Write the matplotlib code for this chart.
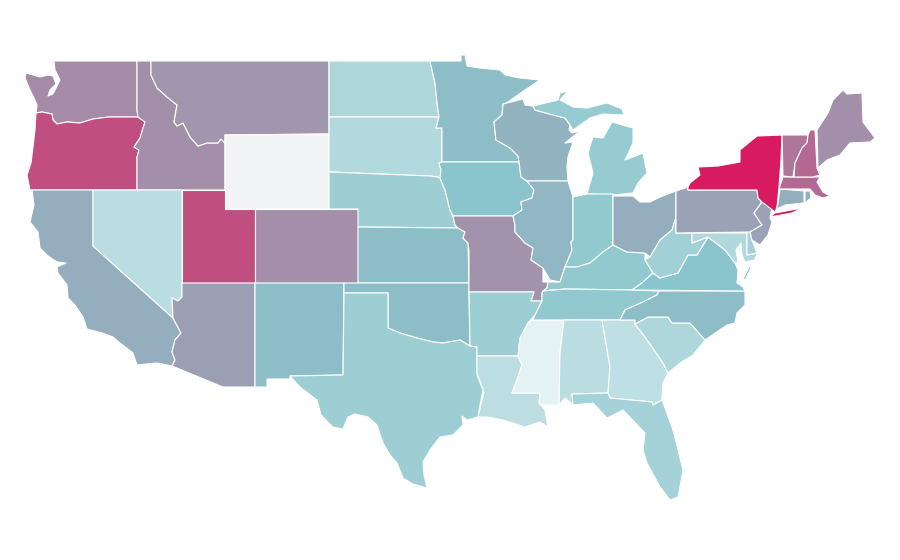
import matplotlib
matplotlib.use('Agg')
import matplotlib.pyplot as plt
import numpy as np
from matplotlib.collections import PatchCollection
from matplotlib.colors import LinearSegmentedColormap, Normalize
from matplotlib.patches import Polygon

# State values, 0 to 100, Wyoming has no data
states = ['WA', 'OR', 'CA', 'ID', 'NV', 'MT', 'WY', 'UT', 'AZ', 'CO', 'NM', 'ND', 'SD', 'NE', 'KS', 'OK', 'TX',
          'MN', 'IA', 'MO', 'AR', 'LA', 'WI', 'IL', 'MS', 'MI', 'IN', 'KY', 'TN', 'AL', 'OH', 'GA', 'FL', 'SC',
          'NC', 'VA', 'WV', 'MD', 'DE', 'PA', 'NJ', 'NY', 'CT', 'RI', 'MA', 'VT', 'NH', 'ME']
values = [67, 85, 57, 66, 25, 64, np.nan, 85, 61, 66, 52, 32, 29, 41, 52, 52, 41,
          52, 50, 65, 41, 24, 55, 54, 3, 44, 46, 46, 46, 25, 57, 23, 36, 31,
          52, 50, 38, 30, 36, 60, 60, 100, 57, 56, 77, 73, 77, 66]

# Outlines of the states in picture pixels
shapes = {
    'WA': [[(54, 61), (137, 61), (137, 110), (138, 117), (109, 117), (93, 119), (80, 123), (67, 122), (57, 124),
            (53, 120), (52, 114), (42, 112), (36, 113), (37, 105), (34, 98), (30, 90), (25, 78), (26, 73), (40, 77),
            (48, 75), (53, 76), (56, 84), (50, 90), (48, 96), (53, 94), (60, 80), (55, 70)]],
    'OR': [[(36, 113), (42, 112), (52, 114), (53, 120), (57, 124), (67, 122), (80, 123), (93, 119), (109, 117),
            (138, 117), (145, 122), (143, 128), (140, 138), (134, 147), (139, 150), (137, 157), (137, 190), (30, 190),
            (27, 175), (31, 163), (33, 147), (35, 130)]],
    'CA': [[(32, 190), (93, 190), (93, 246), (173, 318), (181, 333), (175, 340), (172, 352), (175, 360), (172, 366),
            (157, 363), (137, 365), (133, 353), (120, 343), (113, 337), (102, 333), (87, 329), (83, 317), (75, 305),
            (68, 298), (67, 285), (58, 273), (57, 267), (66, 263), (57, 262), (48, 256), (40, 248), (38, 232),
            (30, 222), (34, 205)]],
    'ID': [[(137, 61), (151, 61), (151, 75), (157, 88), (167, 97), (177, 105), (174, 122), (177, 126), (183, 123),
            (190, 137), (198, 146), (207, 143), (218, 143), (221, 139), (225, 143), (225, 190), (137, 190),
            (137, 157), (139, 150), (134, 147), (140, 138), (143, 128), (145, 122), (138, 117), (137, 110)]],
    'NV': [[(93, 190), (182, 190), (182, 297), (178, 301), (172, 298), (173, 318), (93, 246)]],
    'MT': [[(151, 61), (329, 61), (329, 134), (225, 135), (225, 143), (221, 139), (218, 143), (207, 143), (198, 146),
            (190, 137), (183, 123), (177, 126), (174, 122), (177, 105), (167, 97), (157, 88), (151, 75)]],
    'WY': [[(225, 135), (329, 134), (329, 209), (225, 209)]],
    'UT': [[(182, 190), (225, 190), (225, 209), (255, 209), (255, 283), (182, 283)]],
    'AZ': [[(182, 283), (255, 283), (255, 387), (223, 387), (172, 366), (175, 360), (172, 352), (175, 340), (181, 333),
            (173, 318), (172, 298), (178, 301), (182, 297)]],
    'CO': [[(255, 209), (358, 209), (358, 283), (255, 283)]],
    'NM': [[(255, 283), (344, 283), (343, 375), (290, 376), (290, 379), (267, 379), (267, 387), (255, 387)]],
    'ND': [[(329, 61), (430, 61), (435, 83), (437, 103), (439, 117), (329, 117)]],
    'SD': [[(329, 117), (439, 117), (436, 128), (442, 128), (442, 162), (439, 163), (441, 170), (440, 178), (437, 177),
            (430, 176), (329, 172)]],
    'NE': [[(329, 172), (430, 176), (437, 177), (440, 178), (445, 190), (450, 210), (453, 216), (455, 225), (458, 228),
            (358, 227), (358, 209), (329, 209)]],
    'KS': [[(358, 227), (458, 228), (465, 232), (463, 238), (468, 243), (469, 283), (358, 283)]],
    'OK': [[(344, 283), (469, 283), (469, 292), (470, 346), (460, 340), (443, 343), (433, 342), (417, 338), (400, 333),
            (388, 328), (388, 293), (344, 293)]],
    'TX': [[(344, 293), (388, 293), (388, 328), (400, 333), (417, 338), (433, 342), (443, 343), (460, 340), (470, 346),
            (477, 347), (477, 375), (483, 390), (480, 405), (478, 417), (467, 420), (462, 416), (463, 425), (453, 435),
            (440, 437), (430, 450), (423, 462), (424, 475), (427, 488), (413, 484), (403, 478), (397, 463), (390, 455),
            (383, 443), (377, 425), (368, 417), (355, 414), (348, 417), (343, 429), (333, 427), (321, 415), (317, 400),
            (300, 387), (290, 376), (343, 375)]],
    'MN': [[(430, 61), (461, 61), (461, 55), (465, 55), (467, 66), (480, 68), (500, 70), (505, 75), (520, 78), (540, 80),
            (525, 90), (505, 104), (503, 104), (502, 115), (494, 122), (496, 140), (510, 148), (518, 156), (519, 162),
            (442, 162), (442, 128), (436, 128), (439, 117), (437, 103), (435, 83)]],
    'IA': [[(442, 162), (519, 162), (521, 177), (527, 181), (534, 190), (532, 198), (521, 202), (522, 210), (513, 216),
            (453, 216), (450, 210), (445, 190), (440, 178), (441, 170), (439, 163)]],
    'MO': [[(453, 216), (513, 216), (515, 225), (515, 232), (525, 243), (533, 248), (531, 260), (543, 268), (543, 282),
            (548, 282), (547, 288), (542, 293), (542, 301), (531, 301), (534, 292), (469, 292), (469, 250), (468, 243),
            (463, 238), (465, 232), (458, 228), (455, 225)]],
    'AR': [[(469, 292), (534, 292), (531, 301), (542, 301), (535, 315), (528, 323), (520, 338), (518, 356), (477, 356),
            (477, 347), (470, 346)]],
    'LA': [[(477, 356), (518, 356), (522, 365), (518, 377), (512, 393), (540, 393), (539, 403), (545, 410), (548, 427),
            (540, 422), (525, 427), (503, 420), (487, 417), (478, 417), (484, 392), (477, 373)]],
    'WI': [[(503, 104), (523, 99), (525, 105), (533, 106), (535, 110), (553, 115), (565, 118), (570, 125), (569, 130),
            (572, 133), (580, 131), (565, 143), (573, 142), (568, 157), (567, 167), (568, 181), (527, 181), (521, 177),
            (519, 162), (518, 156), (510, 148), (496, 140), (494, 122), (502, 115)]],
    'IL': [[(527, 181), (568, 181), (573, 197), (573, 240), (571, 242), (572, 250), (565, 267), (560, 282), (550, 280),
            (543, 268), (531, 260), (533, 248), (525, 243), (515, 232), (515, 225), (513, 216), (522, 210), (521, 202),
            (532, 198), (534, 190)]],
    'MS': [[(533, 320), (564, 320), (560, 353), (559, 405), (542, 405), (539, 403), (540, 393), (512, 393), (518, 377),
            (522, 365), (518, 356), (520, 338), (528, 323)]],
    'MI': [[(587, 194), (613, 195), (633, 193), (638, 183), (647, 173), (643, 153), (633, 157), (625, 160), (633, 143),
            (633, 128), (612, 122), (603, 138), (593, 137), (588, 153), (593, 173)],
           [(533, 106), (558, 100), (560, 93), (568, 91), (560, 100), (573, 107), (587, 108), (607, 103), (622, 109),
            (624, 115), (603, 114), (590, 118), (573, 130), (570, 125), (565, 118), (553, 115), (535, 110)]],
    'IN': [[(573, 197), (587, 194), (613, 194), (613, 240), (612, 243), (613, 245), (603, 252), (590, 263), (577, 267),
            (565, 267), (572, 250), (571, 242), (573, 240)]],
    'KY': [[(548, 282), (560, 282), (565, 267), (577, 267), (590, 263), (603, 252), (613, 245), (627, 252), (645, 253),
            (645, 260), (653, 273), (642, 283), (632, 290), (565, 289), (543, 291), (547, 288)]],
    'TN': [[(543, 291), (565, 289), (632, 290), (659, 291), (657, 295), (643, 302), (625, 310), (620, 320), (533, 320),
            (535, 315), (542, 301), (542, 293)]],
    'AL': [[(564, 320), (602, 320), (610, 367), (608, 393), (572, 394), (573, 405), (565, 398), (559, 405), (560, 353)]],
    'OH': [[(613, 196), (633, 196), (640, 202), (650, 202), (660, 197), (676, 191), (676, 217), (672, 230), (660, 240),
            (650, 257), (645, 253), (627, 252), (613, 245)]],
    'GA': [[(602, 320), (635, 320), (635, 324), (645, 337), (663, 363), (668, 373), (663, 383), (662, 400), (653, 405),
            (652, 402), (610, 398), (608, 393), (610, 367)]],
    'FL': [[(572, 394), (608, 393), (610, 398), (652, 402), (653, 405), (662, 400), (673, 430), (683, 470), (678, 497),
            (670, 500), (660, 487), (647, 463), (643, 450), (645, 433), (623, 410), (607, 418), (593, 403), (573, 405)]],
    'SC': [[(635, 324), (648, 317), (668, 317), (672, 323), (690, 323), (705, 340), (693, 355), (680, 363), (668, 373),
            (663, 363), (645, 337)]],
    'NC': [[(620, 320), (625, 310), (643, 302), (657, 295), (659, 291), (745, 291), (745, 305), (737, 313), (735, 323),
            (727, 325), (705, 340), (690, 323), (672, 323), (668, 317), (648, 317), (635, 324), (635, 320)]],
    'VA': [[(632, 290), (642, 283), (653, 273), (660, 278), (678, 273), (688, 255), (697, 255), (708, 237), (716, 243),
            (725, 250), (735, 263), (738, 270), (737, 283), (743, 287), (745, 291)],
           [(743, 279), (750, 265), (751, 268), (745, 280)]],
    'WV': [[(645, 260), (650, 257), (660, 240), (672, 230), (676, 217), (676, 233), (692, 233), (692, 243), (708, 237),
            (697, 255), (688, 255), (678, 273), (660, 278), (653, 273)]],
    'MD': [[(692, 233), (747, 233), (747, 255), (757, 253), (755, 260), (745, 262), (742, 255), (741, 243), (736, 250),
            (738, 262), (735, 263), (725, 250), (716, 243), (708, 237), (692, 243)]],
    'DE': [[(747, 230), (750, 232), (752, 240), (757, 253), (747, 255)]],
    'PA': [[(676, 191), (688, 187), (688, 190), (757, 190), (758, 198), (762, 202), (754, 213), (762, 225), (750, 232),
            (676, 233)]],
    'NJ': [[(762, 202), (772, 207), (770, 218), (772, 222), (768, 235), (760, 245), (752, 240), (750, 232), (762, 225),
            (754, 213)]],
    'NY': [[(688, 187), (690, 183), (700, 175), (698, 167), (718, 166), (740, 162), (740, 150), (757, 136), (782, 135),
            (781, 160), (779, 187), (777, 207), (775, 212), (762, 202), (758, 198), (757, 190), (688, 190)],
           [(770, 217), (775, 213), (802, 208), (792, 213)]],
    'CT': [[(780, 189), (804, 191), (804, 203), (785, 205), (777, 209)]],
    'RI': [[(805, 191), (810, 191), (811, 198), (805, 203)]],
    'MA': [[(783, 177), (820, 177), (817, 182), (823, 192), (830, 196), (823, 198), (815, 195), (810, 189), (779, 189)]],
    'VT': [[(782, 135), (808, 135), (807, 143), (802, 148), (795, 163), (793, 177), (783, 176)]],
    'NH': [[(810, 130), (815, 130), (817, 168), (820, 175), (813, 177), (794, 177), (795, 163), (802, 148), (807, 143),
            (808, 135)]],
    'ME': [[(817, 130), (828, 113), (833, 100), (843, 90), (847, 94), (862, 93), (863, 122), (875, 138), (870, 142),
            (850, 143), (840, 155), (827, 160), (818, 168)]],
}

cmap = LinearSegmentedColormap.from_list('map', ['#e9f5f6', '#8ac5cc', '#d81b60'])
cmap.set_bad('#f3f4f6')

fig = plt.figure(figsize=(9, 5.6), dpi=100)
ax = fig.add_axes([0, 0, 1, 1])

patches = []
colors = []
for state, value in zip(states, values):
    for outline in shapes[state]:
        patches.append(Polygon(outline, closed=True))
        colors.append(value)

coll = PatchCollection(patches, cmap=cmap, norm=Normalize(0, 100), edgecolor='white', linewidth=0.8)
coll.set_array(np.ma.masked_invalid(colors))
ax.add_collection(coll)

ax.set_xlim(0, 900)
ax.set_ylim(560, 0)
ax.axis('off')

fig.savefig('out.png', dpi=100, facecolor='white')
